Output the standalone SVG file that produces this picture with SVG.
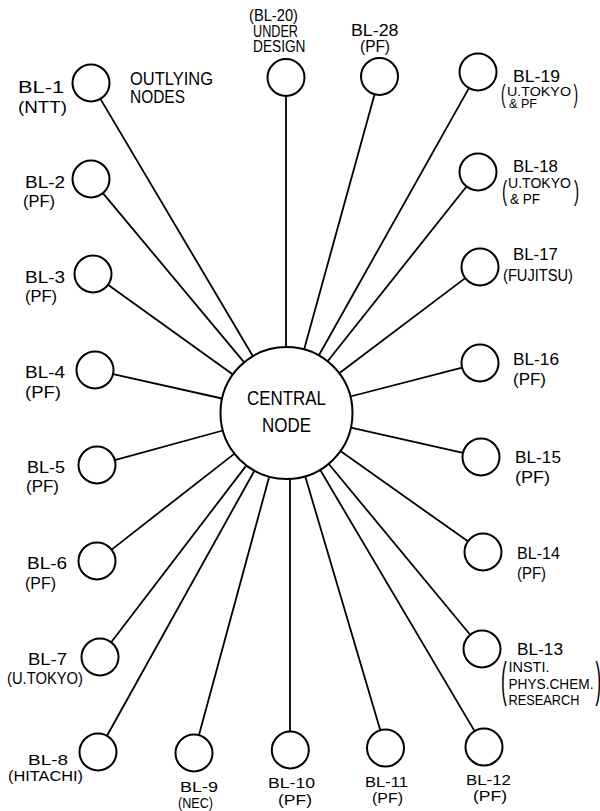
<svg xmlns="http://www.w3.org/2000/svg" width="600" height="811" viewBox="0 0 600 811">
<style>
.n{fill:#fff;stroke:#000;stroke-width:2}
.c line{stroke:#000;stroke-width:1.8}
text{font-family:"Liberation Sans",Arial,sans-serif;font-size:16px;fill:#000}
.big{font-size:20px}
.ol{font-size:17.5px}
.sm{font-size:14px}
.xs{font-size:12.5px}
.b15{font-size:15px}
</style>
<rect width="600" height="811" fill="#fff"/>
<g id="connectors" class="c">
<line x1="252.9" y1="356.2" x2="100.4" y2="98.9"/>
<line x1="244.2" y1="362.3" x2="102.9" y2="193.2"/>
<line x1="232.9" y1="374.5" x2="108.0" y2="284.8"/>
<line x1="222.1" y1="398.5" x2="113.1" y2="374.1"/>
<line x1="222.9" y1="430.5" x2="114.8" y2="460.1"/>
<line x1="234.5" y1="453.6" x2="111.6" y2="549.6"/>
<line x1="246.4" y1="465.4" x2="111.2" y2="642.3"/>
<line x1="254.4" y1="470.7" x2="107.0" y2="735.8"/>
<line x1="269.2" y1="476.7" x2="198.9" y2="735.2"/>
<line x1="290" y1="478.9" x2="290" y2="731.5"/>
<line x1="305.2" y1="476.3" x2="380.3" y2="730.3"/>
<line x1="320.1" y1="469.8" x2="474.6" y2="731.1"/>
<line x1="328.6" y1="463.8" x2="470.2" y2="634.8"/>
<line x1="340.4" y1="451.1" x2="467.9" y2="541.3"/>
<line x1="350.9" y1="427.6" x2="463.0" y2="452.9"/>
<line x1="350.4" y1="396.5" x2="462.1" y2="367.6"/>
<line x1="339.2" y1="373.3" x2="465.2" y2="278.1"/>
<line x1="327.6" y1="361.3" x2="466.5" y2="186.5"/>
<line x1="318.8" y1="355.5" x2="468.9" y2="88.1"/>
<line x1="286" y1="347" x2="286" y2="96"/>
<line x1="304.1" y1="349.4" x2="374.6" y2="94.3"/>
</g>
<g id="central">
<circle class="n" cx="286.5" cy="413" r="66"/>
<text class="big" x="247" y="405" textLength="79" lengthAdjust="spacingAndGlyphs">CENTRAL</text>
<text class="big" x="262" y="432" textLength="49" lengthAdjust="spacingAndGlyphs">NODE</text>
</g>
<g id="outlying-title">
<text class="ol" x="130" y="85" textLength="83" lengthAdjust="spacingAndGlyphs">OUTLYING</text>
<text class="ol" x="130" y="103" textLength="55" lengthAdjust="spacingAndGlyphs">NODES</text>
</g>
<g id="bl-1">
<circle class="n" cx="91" cy="83" r="18.5"/>
<text x="18" y="93" textLength="46" lengthAdjust="spacingAndGlyphs">BL-1</text>
<text x="18" y="113" textLength="49" lengthAdjust="spacingAndGlyphs">(NTT)</text>
</g>
<g id="bl-2">
<circle class="n" cx="91" cy="179" r="18.5"/>
<text x="25" y="188" textLength="40" lengthAdjust="spacingAndGlyphs">BL-2</text>
<text x="23" y="207" textLength="32" lengthAdjust="spacingAndGlyphs">(PF)</text>
</g>
<g id="bl-3">
<circle class="n" cx="93" cy="274" r="18.5"/>
<text x="25" y="283" textLength="40" lengthAdjust="spacingAndGlyphs">BL-3</text>
<text x="25" y="302" textLength="32" lengthAdjust="spacingAndGlyphs">(PF)</text>
</g>
<g id="bl-4">
<circle class="n" cx="95" cy="370" r="18.5"/>
<text x="25" y="378" textLength="40" lengthAdjust="spacingAndGlyphs">BL-4</text>
<text x="25" y="398" textLength="36" lengthAdjust="spacingAndGlyphs">(PF)</text>
</g>
<g id="bl-5">
<circle class="n" cx="97" cy="465" r="18.5"/>
<text x="27" y="473" textLength="38" lengthAdjust="spacingAndGlyphs">BL-5</text>
<text x="26" y="492" textLength="33" lengthAdjust="spacingAndGlyphs">(PF)</text>
</g>
<g id="bl-6">
<circle class="n" cx="97" cy="561" r="18.5"/>
<text x="27" y="569" textLength="40" lengthAdjust="spacingAndGlyphs">BL-6</text>
<text x="25" y="589" textLength="31" lengthAdjust="spacingAndGlyphs">(PF)</text>
</g>
<g id="bl-7">
<circle class="n" cx="100" cy="657" r="18.5"/>
<text x="28" y="665" textLength="39" lengthAdjust="spacingAndGlyphs">BL-7</text>
<text x="7" y="684" textLength="76" lengthAdjust="spacingAndGlyphs">(U.TOKYO)</text>
</g>
<g id="bl-8">
<circle class="n" cx="98" cy="752" r="18.5"/>
<text class="b15" x="28" y="765" textLength="40" lengthAdjust="spacingAndGlyphs">BL-8</text>
<text class="b15" x="8" y="781" textLength="75" lengthAdjust="spacingAndGlyphs">(HITACHI)</text>
</g>
<g id="bl-9">
<circle class="n" cx="194" cy="753" r="18.5"/>
<text class="b15" x="180" y="792" textLength="38" lengthAdjust="spacingAndGlyphs">BL-9</text>
<text class="b15" x="178" y="807.5" textLength="35" lengthAdjust="spacingAndGlyphs">(NEC)</text>
</g>
<g id="bl-10">
<circle class="n" cx="290.3" cy="750" r="18.5"/>
<text class="b15" x="268" y="788" textLength="47" lengthAdjust="spacingAndGlyphs">BL-10</text>
<text class="b15" x="278" y="805" textLength="34" lengthAdjust="spacingAndGlyphs">(PF)</text>
</g>
<g id="bl-11">
<circle class="n" cx="385.5" cy="748" r="18.5"/>
<text class="b15" x="365" y="787" textLength="43" lengthAdjust="spacingAndGlyphs">BL-11</text>
<text class="b15" x="372" y="803" textLength="31" lengthAdjust="spacingAndGlyphs">(PF)</text>
</g>
<g id="bl-12">
<circle class="n" cx="484" cy="747" r="18.5"/>
<text class="b15" x="466" y="785" textLength="45" lengthAdjust="spacingAndGlyphs">BL-12</text>
<text class="b15" x="473" y="800.5" textLength="34" lengthAdjust="spacingAndGlyphs">(PF)</text>
</g>
<g id="bl-13">
<circle class="n" cx="482" cy="649" r="18.5"/>
<text x="517" y="655" textLength="46" lengthAdjust="spacingAndGlyphs">BL-13</text>
<text transform="translate(501,695.5) scale(0.35,1)" style="font-size:49px">(</text>
<text class="sm" x="508.5" y="672" textLength="41" lengthAdjust="spacingAndGlyphs">INSTI.</text>
<text class="sm" x="508.5" y="688.5" textLength="85" lengthAdjust="spacingAndGlyphs">PHYS.CHEM.</text>
<text class="sm" x="508.5" y="705" textLength="71" lengthAdjust="spacingAndGlyphs">RESEARCH</text>
<text transform="translate(595.5,695.5) scale(0.35,1)" style="font-size:49px">)</text>
</g>
<g id="bl-14">
<circle class="n" cx="483" cy="552" r="18.5"/>
<text x="517" y="559" textLength="43" lengthAdjust="spacingAndGlyphs">BL-14</text>
<text x="517" y="579" textLength="29" lengthAdjust="spacingAndGlyphs">(PF)</text>
</g>
<g id="bl-15">
<circle class="n" cx="481" cy="457" r="18.5"/>
<text x="515" y="463" textLength="46" lengthAdjust="spacingAndGlyphs">BL-15</text>
<text x="515" y="483" textLength="35" lengthAdjust="spacingAndGlyphs">(PF)</text>
</g>
<g id="bl-16">
<circle class="n" cx="480" cy="363" r="18.5"/>
<text x="513" y="365" textLength="46" lengthAdjust="spacingAndGlyphs">BL-16</text>
<text x="513" y="385" textLength="33" lengthAdjust="spacingAndGlyphs">(PF)</text>
</g>
<g id="bl-17">
<circle class="n" cx="480" cy="267" r="18.5"/>
<text x="513" y="260" textLength="45" lengthAdjust="spacingAndGlyphs">BL-17</text>
<text x="503" y="281" textLength="70" lengthAdjust="spacingAndGlyphs">(FUJITSU)</text>
</g>
<g id="bl-18">
<circle class="n" cx="478" cy="172" r="18.5"/>
<text x="513" y="172" textLength="45" lengthAdjust="spacingAndGlyphs">BL-18</text>
<text transform="translate(502,200) scale(0.55,1)" style="font-size:28px">(</text>
<text class="sm" x="508" y="188" textLength="63" lengthAdjust="spacingAndGlyphs">U.TOKYO</text>
<text class="sm" x="510" y="204" textLength="30" lengthAdjust="spacingAndGlyphs">&amp; PF</text>
<text transform="translate(574,200) scale(0.55,1)" style="font-size:28px">)</text>
</g>
<g id="bl-19">
<circle class="n" cx="478" cy="72" r="18.5"/>
<text x="513" y="82" textLength="47" lengthAdjust="spacingAndGlyphs">BL-19</text>
<text transform="translate(501,103) scale(0.55,1)" style="font-size:25px">(</text>
<text class="xs" x="507" y="95.5" textLength="64" lengthAdjust="spacingAndGlyphs">U.TOKYO</text>
<text class="xs" x="509" y="108" textLength="28" lengthAdjust="spacingAndGlyphs">&amp; PF</text>
<text transform="translate(573.5,103) scale(0.55,1)" style="font-size:25px">)</text>
</g>
<g id="bl-20">
<circle class="n" cx="286" cy="77.5" r="18.5"/>
<text x="249" y="21" textLength="49" lengthAdjust="spacingAndGlyphs">(BL-20)</text>
<text x="253" y="36.5" textLength="45" lengthAdjust="spacingAndGlyphs">UNDER</text>
<text x="253" y="52" textLength="52.5" lengthAdjust="spacingAndGlyphs">DESIGN</text>
</g>
<g id="bl-28">
<circle class="n" cx="379.5" cy="76.5" r="18.5"/>
<text x="351" y="36" textLength="47.5" lengthAdjust="spacingAndGlyphs">BL-28</text>
<text x="360" y="52" textLength="30" lengthAdjust="spacingAndGlyphs">(PF)</text>
</g>
</svg>
